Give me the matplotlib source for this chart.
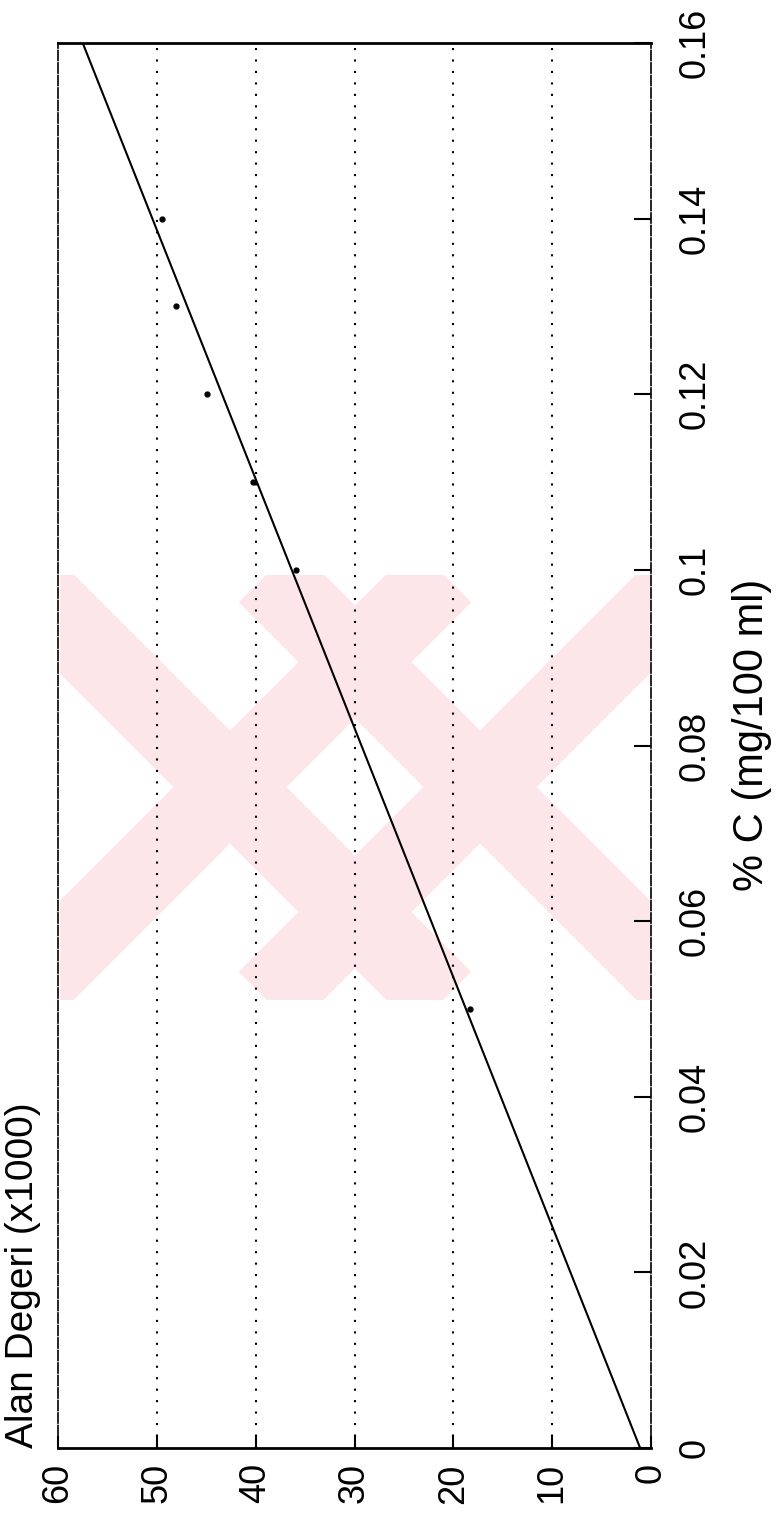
import matplotlib
matplotlib.use("Agg")
import matplotlib.pyplot as plt
from matplotlib.patches import Polygon, Rectangle

plt.rcParams['font.family'] = ['Liberation Sans', 'DejaVu Sans']

# measured points: concentration (% C, mg/100 ml) vs peak area (x1000)
conc = [0.05, 0.10, 0.11, 0.12, 0.13, 0.14]
area = [18.3, 35.9, 40.3, 44.9, 48.1, 49.5]

# calibration line end points
fit_conc = [0.0, 0.16]
fit_area = [1.1, 57.5]

area_ticks = [0, 10, 20, 30, 40, 50, 60]
conc_ticks = [0, 0.02, 0.04, 0.06, 0.08, 0.1, 0.12, 0.14, 0.16]
conc_labels = ['0', '0.02', '0.04', '0.06', '0.08', '0.1', '0.12', '0.14', '0.16']

fig = plt.figure(figsize=(7.79, 15.23), dpi=100)

# faint pink watermark behind the plot (pixel coords of the page)
bg = fig.add_axes([0, 0, 1, 1], zorder=0)
bg.set_xlim(0, 779)
bg.set_ylim(1523, 0)
bg.axis('off')
clip = Rectangle((60, 575), 590, 425, transform=bg.transData)
for cx in [230, 480]:
    cy, h, w = 787, 213, 40
    for sgn in [1, -1]:
        p = (cx - h, cy - sgn * h)
        q = (cx + h, cy + sgn * h)
        nx, ny = 0.7071 * w, 0.7071 * w * sgn
        poly = Polygon([(p[0] + nx, p[1] - ny), (q[0] + nx, q[1] - ny),
                        (q[0] - nx, q[1] + ny), (p[0] - nx, p[1] + ny)],
                       closed=True, color='#fde6ea', lw=0)
        bg.add_patch(poly)
        poly.set_clip_path(clip)

ax = fig.add_axes([58 / 779, 1 - 1448 / 1523, 593 / 779, 1405 / 1523], zorder=1)
ax.patch.set_alpha(0)

# the chart is drawn turned a quarter turn: area runs right-to-left, conc bottom-to-top
ax.plot(fit_area, fit_conc, color='black', lw=1.5)
ax.plot(area, conc, 'o', color='black', ms=3.5)

ax.set_xlim(60, 0)
ax.set_ylim(0, 0.16)

ax.set_xticks(area_ticks)
ax.set_xticklabels([str(t) for t in area_ticks], rotation=90, fontsize=26)
ax.tick_params(axis='x', direction='in', length=9, width=1.5, pad=11)

ax.yaxis.tick_right()
ax.yaxis.set_label_position('right')
ax.set_yticks(conc_ticks)
ax.set_yticklabels(conc_labels, rotation=90, va='center', fontsize=26)
ax.tick_params(axis='y', direction='in', length=12, width=1.5, pad=19)

for t in [10, 20, 30, 40, 50]:
    ax.axvline(t, color='black', lw=1.5, linestyle=(0, (1, 4.5)), zorder=0)

ax.spines['top'].set_linewidth(2)
ax.spines['bottom'].set_linewidth(2)
for s in ['left', 'right']:
    ax.spines[s].set_linewidth(1.2)
    ax.spines[s].set_linestyle((0, (6, 1.5)))

ax.set_ylabel('% C (mg/100 ml)', rotation=90, fontsize=30, va='center', ha='center')
ax.yaxis.set_label_coords(1.17, 0.5075)

ax.text(-0.059, 0.0, 'Alan Degeri (x1000)', rotation=90, fontsize=28,
        ha='center', va='bottom', transform=ax.transAxes)

fig.savefig('out.png', dpi=100)
